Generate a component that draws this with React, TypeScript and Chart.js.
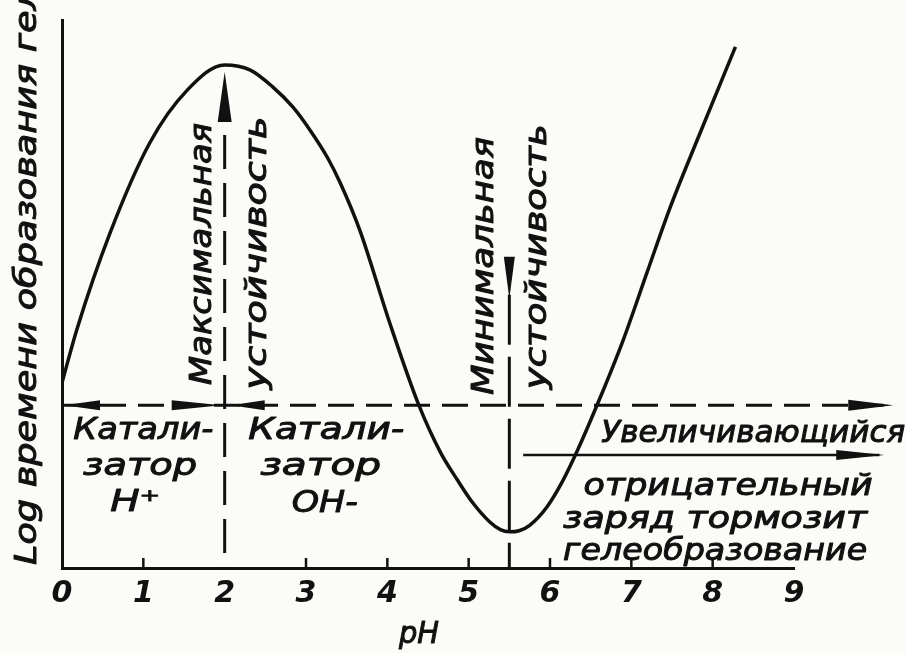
import React, { useEffect, useRef } from 'react';
import { Chart, registerables } from 'chart.js';

Chart.register(...registerables);

// Curve: log of gelation time vs pH (arbitrary units)
const phValues = [0, 0.18, 0.59, 1.08, 1.54, 2.0, 2.31, 2.59, 2.84, 3.05, 3.26, 3.42, 3.66, 4.03, 4.38, 4.65, 4.86, 5.05, 5.26, 5.39, 5.5, 5.62, 5.75, 5.96, 6.16, 6.33, 6.62, 6.9, 7.19, 7.48, 7.81, 8.28];
const logTime = [3.38, 4.34, 6.11, 7.76, 8.72, 9.18, 9.09, 8.78, 8.41, 7.99, 7.5, 7.03, 6.17, 4.47, 3.0, 2.12, 1.61, 1.19, 0.84, 0.7, 0.66, 0.68, 0.78, 1.11, 1.6, 2.12, 3.12, 4.16, 5.38, 6.59, 7.81, 9.51];

const minorTicks = [1, 3, 4, 5, 6, 7, 8];
const maxStabilityPH = 2;
const minStabilityPH = 5.5;
const referenceLevel = 2.97;

const xTitle = 'pH';
const yTitle = 'Log времени образования геля';
const maxLabel = ['Максимальная', 'устойчивость'];
const minLabel = ['Минимальная', 'устойчивость'];
const acidLabel = ['Катали-', 'затор', 'H⁺'];
const baseLabel = ['Катали-', 'затор', 'OH-'];
const chargeLabel = ['Увеличивающийся', 'отрицательный', 'заряд тормозит', 'гелеобразование'];

const FONT = "'DejaVu Sans', sans-serif";
const INK = '#111111';

function head(ctx: CanvasRenderingContext2D, tx: number, ty: number, dx: number, dy: number, len: number, half: number) {
  const bx = tx - dx * len;
  const by = ty - dy * len;
  const px = -dy;
  const py = dx;
  ctx.beginPath();
  ctx.moveTo(tx, ty);
  ctx.lineTo(bx + px * half, by + py * half);
  ctx.lineTo(bx - px * half, by - py * half);
  ctx.closePath();
  ctx.fill();
}

function text(ctx: CanvasRenderingContext2D, s: string, x: number, y: number, size: number, width: number, rotate = false, align: CanvasTextAlign = 'center') {
  ctx.save();
  ctx.font = `oblique ${size}px ${FONT}`;
  ctx.translate(x, y);
  if (rotate) ctx.rotate(-Math.PI / 2);
  const w = ctx.measureText(s).width;
  ctx.scale(width / w, 1);
  ctx.textAlign = align;
  ctx.textBaseline = 'middle';
  ctx.fillStyle = INK;
  ctx.strokeStyle = INK;
  ctx.lineWidth = 1;
  ctx.lineJoin = 'round';
  ctx.fillText(s, 0, 0);
  ctx.strokeText(s, 0, 0);
  ctx.restore();
}

const annotate = {
  id: 'annotate',
  beforeDraw(chart: any) {
    const ctx = chart.ctx;
    ctx.save();
    ctx.fillStyle = '#fbfbf8';
    ctx.fillRect(0, 0, chart.width, chart.height);
    ctx.restore();
  },
  afterDraw(chart: any) {
    const ctx: CanvasRenderingContext2D = chart.ctx;
    const xs = chart.scales.x;
    const ys = chart.scales.y;
    const X = (v: number) => xs.getPixelForValue(v);
    const Y = (v: number) => ys.getPixelForValue(v);
    ctx.save();
    ctx.strokeStyle = INK;
    ctx.fillStyle = INK;
    ctx.lineCap = 'butt';

    // minor ticks on x axis (pointing inward)
    ctx.lineWidth = 2.5;
    minorTicks.forEach((t) => {
      ctx.beginPath();
      ctx.moveTo(X(t), Y(0));
      ctx.lineTo(X(t), Y(0) - 10);
      ctx.stroke();
    });

    // horizontal dashed reference line with arrowheads
    const yr = Y(referenceLevel);
    ctx.lineWidth = 3;
    ctx.setLineDash([26, 12]);
    ctx.beginPath();
    ctx.moveTo(X(0), yr);
    ctx.lineTo(X(10.1), yr);
    ctx.stroke();
    ctx.setLineDash([]);
    head(ctx, X(0) + 2, yr, -1, 0, 36, 5);
    head(ctx, X(maxStabilityPH) - 3, yr, 1, 0, 50, 5);
    head(ctx, X(maxStabilityPH) + 6, yr, -1, 0, 34, 5);
    head(ctx, X(10.22), yr, 1, 0, 45, 5.5);

    // vertical line at maximum stability, arrow up to the peak
    const xm = X(maxStabilityPH);
    const tipMax = Y(9.05);
    head(ctx, xm, tipMax, 0, -1, 50, 7);
    ctx.lineWidth = 3;
    ctx.setLineDash([34, 14]);
    ctx.beginPath();
    ctx.moveTo(xm, tipMax + 63);
    ctx.lineTo(xm, Y(0));
    ctx.stroke();
    ctx.setLineDash([]);

    // vertical line at minimum stability, arrow down
    const xn = X(minStabilityPH);
    const baseMin = Y(5.68);
    head(ctx, xn, baseMin + 42, 0, 1, 42, 5.5);
    ctx.setLineDash([50, 12]);
    ctx.beginPath();
    ctx.moveTo(xn, baseMin + 38);
    ctx.lineTo(xn, Y(0));
    ctx.stroke();
    ctx.setLineDash([]);

    // solid arrow for increasing negative charge
    const ya = Y(2.06);
    ctx.lineWidth = 2.5;
    ctx.beginPath();
    ctx.moveTo(X(5.67), ya);
    ctx.lineTo(X(10.05), ya);
    ctx.stroke();
    head(ctx, X(10.11), ya, 1, 0, 48, 5);

    // rotated labels
    text(ctx, maxLabel[0], X(1.73), Y(5.73), 30, 262, true);
    text(ctx, maxLabel[1], X(2.41), Y(5.75), 30, 273, true);
    text(ctx, minLabel[0], X(5.2), Y(5.51), 30, 258, true);
    text(ctx, minLabel[1], X(5.85), Y(5.68), 30, 265, true);

    // catalyst labels
    text(ctx, acidLabel[0], X(1.0), Y(2.5), 30, 140);
    text(ctx, acidLabel[1], X(0.96), Y(1.84), 30, 114);
    text(ctx, acidLabel[2], X(0.9), Y(1.19), 30, 50);
    text(ctx, baseLabel[0], X(3.25), Y(2.5), 30, 156);
    text(ctx, baseLabel[1], X(3.18), Y(1.84), 30, 121);
    text(ctx, baseLabel[2], X(3.23), Y(1.16), 30, 66);

    // negative charge labels
    text(ctx, chargeLabel[0], X(6.63), Y(2.45), 30, 304, false, 'left');
    text(ctx, chargeLabel[1], X(8.19), Y(1.48), 30, 289);
    text(ctx, chargeLabel[2], X(8.03), Y(0.88), 30, 304);
    text(ctx, chargeLabel[3], X(8.03), Y(0.29), 30, 304);

    // axis titles
    text(ctx, xTitle, X(4.39), Y(0) + 67, 30, 40);
    text(ctx, yTitle, 28, Y(0) - 3, 30, 600, true, 'left');

    ctx.restore();
  },
};

export default function App() {
  const ref = useRef<HTMLCanvasElement | null>(null);
  useEffect(() => {
    if (!ref.current) return;
    const chart = new Chart(ref.current, {
      type: 'line',
      data: {
        datasets: [
          {
            data: phValues.map((x, i) => ({ x, y: logTime[i] })),
            borderColor: INK,
            borderWidth: 3.5,
            pointRadius: 0,
            cubicInterpolationMode: 'monotone',
            fill: false,
          },
        ],
      },
      options: {
        responsive: false,
        animation: false,
        events: [],
        layout: { padding: { top: 20, right: 112, left: 0, bottom: 0 } },
        plugins: { legend: { display: false }, tooltip: { enabled: false } },
        scales: {
          x: {
            type: 'linear',
            min: 0,
            max: 9,
            grid: { display: false, drawTicks: false },
            border: { display: true, color: INK, width: 3 },
            ticks: { stepSize: 1, color: INK, padding: 8, maxRotation: 0, font: { family: FONT, size: 30, style: 'oblique' as any, weight: '600' } },
            title: { display: false, text: xTitle },
            afterFit: (s: any) => { s.height = 85; },
          },
          y: {
            type: 'linear',
            min: 0,
            max: 10,
            grid: { display: false, drawTicks: false },
            border: { display: true, color: INK, width: 3 },
            ticks: { display: false },
            afterFit: (s: any) => { s.width = 62; },
          },
        },
      },
      plugins: [annotate],
    } as any);
    return () => chart.destroy();
  }, []);
  return (
    <div style={{ position: 'fixed', left: 0, top: 0, width: 906, height: 653 }}>
      <canvas ref={ref} width={906} height={653} />
    </div>
  );
}
